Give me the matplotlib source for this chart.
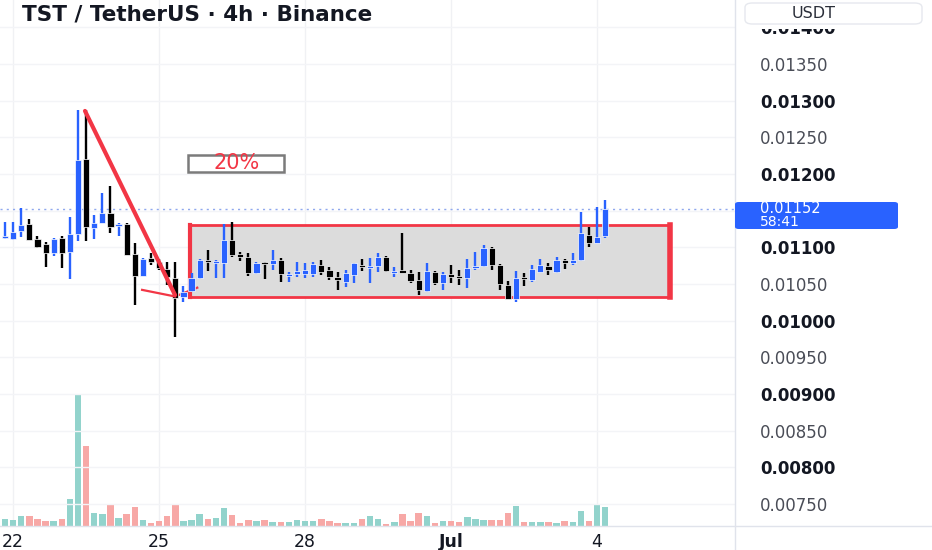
import matplotlib
matplotlib.use("Agg")
import matplotlib.pyplot as plt
from matplotlib.patches import Rectangle, FancyBboxPatch
from matplotlib.lines import Line2D
from matplotlib.transforms import Bbox, TransformedBbox
import numpy as np

# ---- data (4h candles, Jun 21 20:00 -> Jul 4 04:00) ----
opens = [0.01113, 0.01111, 0.01122, 0.01132, 0.01111, 0.01105, 0.01092, 0.01113, 0.01094, 0.01118,
         0.01221, 0.01126, 0.01133, 0.01147, 0.01129, 0.01132, 0.01091, 0.01061, 0.01086, 0.01080,
         0.01071, 0.01058, 0.01032, 0.01040, 0.01058, 0.01083, 0.01079, 0.01079, 0.01110, 0.01091,
         0.01087, 0.01065, 0.01080, 0.01077, 0.01083, 0.01061, 0.01064, 0.01064, 0.01064, 0.01076,
         0.01069, 0.01060, 0.01053, 0.01062, 0.01076, 0.01072, 0.01075, 0.01087, 0.01065, 0.01069,
         0.01065, 0.01056, 0.01041, 0.01066, 0.01051, 0.01064, 0.01061, 0.01058, 0.01072, 0.01075,
         0.01099, 0.01076, 0.01049, 0.01030, 0.01060, 0.01056, 0.01066, 0.01075, 0.01066, 0.01083,
         0.01079, 0.01083, 0.01117, 0.01106, 0.01116]
highs = [0.01135, 0.01135, 0.01154, 0.01139, 0.01116, 0.01107, 0.01113, 0.01116, 0.01141, 0.01287,
         0.01287, 0.01144, 0.01174, 0.01184, 0.01133, 0.01133, 0.01106, 0.01086, 0.01092, 0.01084,
         0.01080, 0.01080, 0.01047, 0.01065, 0.01084, 0.01096, 0.01083, 0.01132, 0.01135, 0.01094,
         0.01092, 0.01080, 0.01080, 0.01096, 0.01086, 0.01066, 0.01080, 0.01079, 0.01080, 0.01083,
         0.01073, 0.01066, 0.01069, 0.01079, 0.01084, 0.01086, 0.01092, 0.01088, 0.01073, 0.01120,
         0.01069, 0.01066, 0.01079, 0.01068, 0.01066, 0.01076, 0.01069, 0.01084, 0.01094, 0.01103,
         0.01101, 0.01077, 0.01054, 0.01068, 0.01065, 0.01076, 0.01084, 0.01079, 0.01087, 0.01084,
         0.01092, 0.01148, 0.01128, 0.01155, 0.01165]
lows = [0.01111, 0.01110, 0.01114, 0.01110, 0.01099, 0.01073, 0.01088, 0.01072, 0.01057, 0.01109,
        0.01109, 0.01111, 0.01133, 0.01120, 0.01116, 0.01090, 0.01021, 0.01061, 0.01076, 0.01069,
        0.01049, 0.00978, 0.01026, 0.01039, 0.01057, 0.01068, 0.01058, 0.01058, 0.01087, 0.01081,
        0.01061, 0.01064, 0.01057, 0.01069, 0.01053, 0.01053, 0.01060, 0.01058, 0.01060, 0.01062,
        0.01056, 0.01042, 0.01046, 0.01051, 0.01068, 0.01051, 0.01066, 0.01066, 0.01060, 0.01065,
        0.01051, 0.01035, 0.01039, 0.01049, 0.01042, 0.01051, 0.01049, 0.01045, 0.01069, 0.01073,
        0.01069, 0.01042, 0.01030, 0.01026, 0.01047, 0.01053, 0.01066, 0.01062, 0.01065, 0.01071,
        0.01076, 0.01081, 0.01100, 0.01106, 0.01113]
closes = [0.01116, 0.01121, 0.01131, 0.01110, 0.01101, 0.01092, 0.01111, 0.01092, 0.01118, 0.01219,
          0.01128, 0.01133, 0.01147, 0.01128, 0.01131, 0.01090, 0.01061, 0.01084, 0.01080, 0.01072,
          0.01060, 0.01031, 0.01039, 0.01058, 0.01083, 0.01080, 0.01080, 0.01110, 0.01090, 0.01087,
          0.01065, 0.01079, 0.01077, 0.01083, 0.01064, 0.01062, 0.01068, 0.01069, 0.01077, 0.01066,
          0.01060, 0.01056, 0.01065, 0.01079, 0.01073, 0.01073, 0.01087, 0.01068, 0.01068, 0.01065,
          0.01054, 0.01042, 0.01068, 0.01051, 0.01064, 0.01060, 0.01058, 0.01072, 0.01075, 0.01099,
          0.01076, 0.01050, 0.01030, 0.01058, 0.01057, 0.01071, 0.01076, 0.01069, 0.01083, 0.01079,
          0.01083, 0.01120, 0.01106, 0.01114, 0.01152]
volumes = [73, 57, 97, 103, 67, 50, 47, 70, 267, 1307,
           797, 133, 123, 217, 80, 123, 190, 57, 33, 50,
           103, 223, 50, 63, 117, 70, 80, 177, 107, 30,
           63, 50, 57, 43, 43, 43, 57, 50, 53, 73,
           47, 30, 30, 33, 70, 97, 67, 20, 43, 123,
           47, 127, 103, 33, 47, 53, 37, 90, 70, 57,
           57, 63, 130, 197, 43, 43, 43, 43, 33, 47,
           43, 147, 47, 207, 187]
vol_up = [c >= o for o, c in zip(opens, closes)]

date_tick_idx = [1, 19, 37, 55, 73]
date_tick_labels = ["22", "25", "28", "Jul", "4"]
date_tick_bold = [False, False, False, True, False]

price_ticks = [0.0075, 0.0080, 0.0085, 0.0090, 0.0095, 0.0100, 0.0105, 0.0110,
               0.0120, 0.0125, 0.0130, 0.0135, 0.0140]
grid_prices = [0.0075 + 0.0005 * k for k in range(14)]

last_price = 0.01152
countdown = "58:41"
title = "TST / TetherUS · 4h · Binance"

# drawings (bar index, price)
zone_x = (22.8, 82.0)
zone_p = (0.01032, 0.01131)
trend1 = ((9.86, 0.01286), (20.96, 0.01035))
trend2 = ((16.9, 0.01042), (20.96, 0.01033))
trend3 = ((20.96, 0.01033), (23.7, 0.01045))
pct_box_x = (22.6, 34.4)
pct_box_p = (0.01203, 0.01226)
pct_text = "20%"

# ---- figure ----
W, H = 932, 550
fig = plt.figure(figsize=(W / 100, H / 100), dpi=100)
fig.patch.set_facecolor("white")
rect = [0, 24 / H, 735 / W, 526 / H]

axv = fig.add_axes(rect)
ax = fig.add_axes(rect, sharex=axv)
ax.patch.set_visible(False)

n = len(opens)
idx = np.arange(n)
xlim = (-0.62, 90.0)

# volume
vcols = ["#92d3cc" if u else "#f7a8a6" for u in vol_up]
axv.bar(idx, volumes, width=0.8, color=vcols, zorder=2)
axv.set_ylim(0, max(volumes) * 526 / 131)
axv.set_xlim(*xlim)
axv.set_yticks([])
axv.set_xticks(date_tick_idx)
for xv in date_tick_idx:
    axv.axvline(xv, color="#f0f1f4", lw=1, zorder=0)
for s in axv.spines.values():
    s.set_visible(False)
axv.tick_params(axis="x", length=0, pad=5, labelsize=12.5, labelcolor="#131722")
axv.set_xticklabels(date_tick_labels)
for lab, b in zip(axv.get_xticklabels(), date_tick_bold):
    if b:
        lab.set_fontweight("bold")

# price grid
ax.set_ylim(0.0072, 0.014373)
ax.set_xlim(*xlim)
for yp in grid_prices:
    ax.axhline(yp, color="#f3f4f7", lw=1, zorder=0)

# zone box
zr = Rectangle((zone_x[0], zone_p[0]), zone_x[1] - zone_x[0], zone_p[1] - zone_p[0],
               facecolor="#dcdcdc", edgecolor="#f23645", lw=2, zorder=1)
ax.add_patch(zr)
ax.plot([zone_x[0], zone_x[0]], zone_p, color="#f23645", lw=3, zorder=1.5)
ax.plot([zone_x[1], zone_x[1]], zone_p, color="#f23645", lw=4, zorder=1.5)

# current price dotted line
ax.axhline(last_price, color="#8fa8ee", lw=1, ls=(0, (1.5, 3)), zorder=1)

# candles
ccol = ["#2962ff" if u else "#000000" for u in vol_up]
ax.vlines(idx, lows, highs, colors=ccol, lw=1.7, zorder=3)
bottoms = [min(o, c) for o, c in zip(opens, closes)]
heights = [max(abs(c - o), 0.000022) for o, c in zip(opens, closes)]
ax.bar(idx, heights, bottom=bottoms, width=0.76, color=ccol, edgecolor="white",
       linewidth=0.5, zorder=4)

# trend lines
ax.plot([trend1[0][0], trend1[1][0]], [trend1[0][1], trend1[1][1]], color="#f23645",
        lw=3, solid_capstyle="round", zorder=5)
ax.plot([trend2[0][0], trend2[1][0]], [trend2[0][1], trend2[1][1]], color="#f23645",
        lw=1.6, zorder=5)
ax.plot([trend3[0][0], trend3[1][0]], [trend3[0][1], trend3[1][1]], color="#f23645",
        lw=1.6, zorder=2)

# 20% label
pb = Rectangle((pct_box_x[0], pct_box_p[0]), pct_box_x[1] - pct_box_x[0],
               pct_box_p[1] - pct_box_p[0], facecolor="white", edgecolor="#7b7b7b",
               lw=1.8, zorder=6)
ax.add_patch(pb)
ax.text(sum(pct_box_x) / 2, sum(pct_box_p) / 2, pct_text, color="#f23645", fontsize=15,
        ha="center", va="center", zorder=7)

# right price axis
ax.yaxis.tick_right()
ax.set_yticks(price_ticks)
ax.set_yticklabels([f"{p:.5f}" for p in price_ticks])
ax.tick_params(axis="y", length=0, pad=18, labelsize=12)
clip = TransformedBbox(Bbox([[0, 0], [1, (H - 28.5) / H]]), fig.transFigure)
for lab, p in zip(ax.get_yticklabels(), price_ticks):
    if abs(round(p / 0.001) * 0.001 - p) < 1e-9:
        lab.set_fontweight("bold")
        lab.set_color("#131722")
    else:
        lab.set_color("#4a4d57")
    lab.set_clip_box(clip)
    lab.set_clip_on(True)
ax.tick_params(axis="x", bottom=False, labelbottom=False)
for s in ax.spines.values():
    s.set_visible(False)

# separators
fig.add_artist(Line2D([0, 1], [24 / H, 24 / H], color="#e0e3eb", lw=1, transform=fig.transFigure))
fig.add_artist(Line2D([734.5 / W, 734.5 / W], [0, 1], color="#e0e3eb", lw=1, transform=fig.transFigure))

# USDT box
ub = FancyBboxPatch((745 / W, (H - 24) / H), 177 / W, 21 / H,
                    boxstyle="round,pad=0,rounding_size=0.008",
                    transform=fig.transFigure, facecolor="white", edgecolor="#e6e8ee",
                    lw=1, zorder=10)
fig.add_artist(ub)
fig.text(814 / W, 1 - 13 / H, "USDT", ha="center", va="center", fontsize=11.5,
         color="#2a2e39", zorder=11)

# last price label
lb = FancyBboxPatch((735 / W, (H - 229) / H), 163 / W, 27 / H,
                    boxstyle="round,pad=0,rounding_size=0.004",
                    transform=fig.transFigure, facecolor="#2962ff", edgecolor="none",
                    zorder=10)
fig.add_artist(lb)
fig.text(760 / W, 1 - 208.5 / H, f"{last_price:.5f}", ha="left", va="center", fontsize=10.5,
         color="white", zorder=11)
fig.text(760 / W, 1 - 222.5 / H, countdown, ha="left", va="center", fontsize=10,
         color="white", zorder=11)

# title
fig.text(22 / W, 1 - 14 / H, title, ha="left", va="center", fontsize=15.5,
         fontweight="bold", color="#131722", zorder=11)

fig.savefig("out.png", dpi=100, facecolor="white")
